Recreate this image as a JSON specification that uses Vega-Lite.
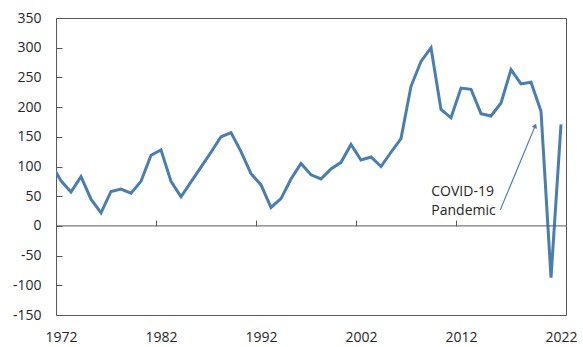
{
  "$schema": "https://vega.github.io/schema/vega-lite/v6.json",
  "width": 510,
  "height": 297,
  "autosize": "none",
  "padding": {"left": 56, "top": 18, "right": 17, "bottom": 32},
  "config": {
    "view": {"stroke": "#595959", "strokeWidth": 1},
    "font": "Open Sans",
    "axis": {"labelFont": "Open Sans", "labelFontSize": 14, "labelColor": "#262626", "grid": false, "title": null}
  },
  "resolve": {"axis": {"x": "independent", "y": "independent"}},
  "layer": [
    {
      "data": {"values": [
        {"year": 1971, "value": 105}, {"year": 1972, "value": 76}, {"year": 1973, "value": 57}, {"year": 1974, "value": 83},
        {"year": 1975, "value": 45}, {"year": 1976, "value": 22}, {"year": 1977, "value": 58}, {"year": 1978, "value": 62},
        {"year": 1979, "value": 55}, {"year": 1980, "value": 75}, {"year": 1981, "value": 119}, {"year": 1982, "value": 128},
        {"year": 1983, "value": 75}, {"year": 1984, "value": 49}, {"year": 1985, "value": 74}, {"year": 1986, "value": 99},
        {"year": 1987, "value": 124}, {"year": 1988, "value": 150}, {"year": 1989, "value": 157}, {"year": 1990, "value": 125},
        {"year": 1991, "value": 88}, {"year": 1992, "value": 69}, {"year": 1993, "value": 31}, {"year": 1994, "value": 46},
        {"year": 1995, "value": 79}, {"year": 1996, "value": 105}, {"year": 1997, "value": 86}, {"year": 1998, "value": 79},
        {"year": 1999, "value": 96}, {"year": 2000, "value": 107}, {"year": 2001, "value": 137}, {"year": 2002, "value": 111},
        {"year": 2003, "value": 116}, {"year": 2004, "value": 100}, {"year": 2005, "value": 124}, {"year": 2006, "value": 147},
        {"year": 2007, "value": 235}, {"year": 2008, "value": 277}, {"year": 2009, "value": 300}, {"year": 2010, "value": 196},
        {"year": 2011, "value": 182}, {"year": 2012, "value": 232}, {"year": 2013, "value": 230}, {"year": 2014, "value": 189},
        {"year": 2015, "value": 185}, {"year": 2016, "value": 207}, {"year": 2017, "value": 263}, {"year": 2018, "value": 239},
        {"year": 2019, "value": 242}, {"year": 2020, "value": 193}, {"year": 2021, "value": -87}, {"year": 2022, "value": 171}
      ]},
      "mark": {"type": "line", "color": "#4A7EB0", "strokeWidth": 3, "clip": true, "strokeJoin": "miter"},
      "encoding": {
        "x": {"field": "year", "type": "quantitative",
              "scale": {"domain": [1971.5, 2022.5], "nice": false, "zero": false},
              "axis": {"orient": "bottom", "values": [1972, 1982, 1992, 2002, 2012, 2022], "format": "d", "ticks": false, "domain": false, "labelPadding": 15, "labelOverlap": false}},
        "y": {"field": "value", "type": "quantitative",
              "scale": {"domain": [-150, 350], "nice": false, "zero": false},
              "axis": {"orient": "left", "values": [-150, -100, -50, 0, 50, 100, 150, 200, 250, 300, 350], "labelExpr": "'' + datum.value", "labelOverlap": false, "domain": false, "ticks": true, "tickSize": -6, "tickWidth": 1, "tickColor": "#595959", "labelPadding": 21}}
      }
    },
    {
      "data": {"values": [{}]},
      "mark": {"type": "rule", "color": "#595959", "strokeWidth": 1},
      "encoding": {"y": {"datum": 0, "type": "quantitative", "axis": null}}
    },
    {
      "data": {"values": [{"x1": 2015.93, "y1": 27, "x2": 2019.43, "y2": 168.8}]},
      "mark": {"type": "rule", "color": "#4A7EB0", "strokeWidth": 1.2},
      "encoding": {
        "x": {"field": "x1", "type": "quantitative",
              "axis": {"orient": "bottom", "values": [1981.5, 1991.5, 2001.5, 2011.5], "labels": false, "domain": false, "offset": -89, "tickSize": -6, "tickWidth": 1, "tickColor": "#595959"}},
        "y": {"field": "y1", "type": "quantitative", "axis": null},
        "x2": {"field": "x2"},
        "y2": {"field": "y2"}
      }
    },
    {
      "data": {"values": [{"x2": 2019.43, "y2": 168.8}]},
      "mark": {"type": "point", "shape": "triangle-up", "filled": true, "color": "#4A7EB0", "size": 30, "angle": 22.6, "opacity": 1},
      "encoding": {
        "x": {"field": "x2", "type": "quantitative", "axis": null},
        "y": {"field": "y2", "type": "quantitative", "axis": null}
      }
    },
    {
      "data": {"values": [{"label": "COVID-19", "x": 2009.03, "y": 57.4}, {"label": "Pandemic", "x": 2009.03, "y": 25.3}]},
      "mark": {"type": "text", "align": "left", "baseline": "middle", "fontSize": 14, "color": "#262626", "font": "Open Sans"},
      "encoding": {
        "x": {"field": "x", "type": "quantitative", "axis": null},
        "y": {"field": "y", "type": "quantitative", "axis": null},
        "text": {"field": "label"}
      }
    }
  ]
}
